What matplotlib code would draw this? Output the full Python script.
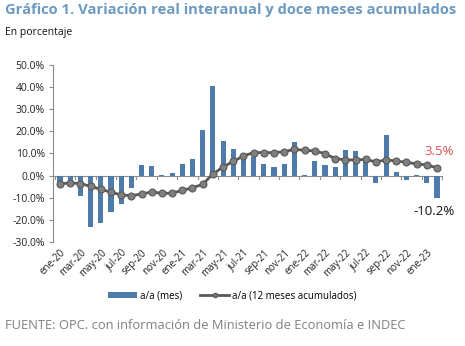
import matplotlib
matplotlib.use("Agg")
import matplotlib.pyplot as plt
from matplotlib.lines import Line2D
from matplotlib.patches import Patch
import numpy as np

plt.rcParams['font.family'] = ['Open Sans', 'DejaVu Sans']

months = ["ene-20", "feb-20", "mar-20", "abr-20", "may-20", "jun-20", "jul-20", "ago-20",
          "sep-20", "oct-20", "nov-20", "dic-20",
          "ene-21", "feb-21", "mar-21", "abr-21", "may-21", "jun-21", "jul-21", "ago-21",
          "sep-21", "oct-21", "nov-21", "dic-21",
          "ene-22", "feb-22", "mar-22", "abr-22", "may-22", "jun-22", "jul-22", "ago-22",
          "sep-22", "oct-22", "nov-22", "dic-22",
          "ene-23", "feb-23"]

aa_mes = [-2.8, -2.2, -9.0, -23.4, -21.6, -16.3, -13.0, -5.4,
          4.9, 4.5, 0.5, 1.4,
          5.4, 7.7, 20.4, 40.3, 15.8, 12.2, 8.6, 8.2,
          5.4, 4.1, 5.4, 15.0,
          0.4, 6.8, 4.6, 3.7, 11.8, 10.9, 7.0, -3.5,
          18.5, 1.8, -2.1, 0.5,
          -3.2, -10.2]

aa_12m = [-3.7, -3.3, -3.6, -4.8, -6.2, -7.5, -8.7, -9.1,
          -8.3, -7.4, -8.0, -7.9,
          -6.7, -5.5, -3.9, 0.7, 3.9, 6.4, 8.9, 10.4,
          10.4, 10.4, 10.8, 11.9,
          11.4, 11.2, 9.9, 7.7, 7.1, 7.1, 7.3, 6.2,
          7.1, 6.6, 6.0, 5.3,
          4.8, 3.5]

yticks = [-30, -20, -10, 0, 10, 20, 30, 40, 50]

title = "Gráfico 1. Variación real interanual y doce meses acumulados"
subtitle = "En porcentaje"
source = "FUENTE: OPC. con información de Ministerio de Economía e INDEC"

bar_color = "#4f7bab"
line_color = "#595959"
marker_face = "#7f7f7f"

fig = plt.figure(figsize=(4.65, 3.46), dpi=100)
ax = fig.add_axes([0.114, 0.3006, 0.839, 0.5116])

x = np.arange(len(months))
ax.bar(x, aa_mes, width=0.5, color=bar_color, zorder=2)
ax.plot(x, aa_12m, color=line_color, lw=2.0, marker='o', markersize=5,
        markerfacecolor=marker_face, markeredgecolor=line_color, markeredgewidth=0.8, zorder=3)

ax.set_ylim(-30, 50)
ax.set_xlim(-0.69, len(months) - 1 + 0.6)
ax.set_yticks(yticks)
ax.set_yticklabels([f"{v:.1f}%" for v in yticks], fontsize=7.5, color="#222222")
ax.tick_params(axis='y', length=3, color="#8c8c8c", width=0.8, pad=3)

ax.set_xticks(x[::2])
ax.set_xticklabels(months[::2], rotation=45, ha='right', rotation_mode='anchor',
                   fontsize=7, color="#222222")
ax.tick_params(axis='x', length=0, pad=4)

for s in ['top', 'right', 'bottom']:
    ax.spines[s].set_visible(False)
ax.spines['left'].set_color("#8c8c8c")
ax.spines['left'].set_linewidth(0.8)

# zero line with small ticks between every two months
ax.axhline(0, color="#8c8c8c", lw=0.8, zorder=1)
for xt in np.arange(-0.5, len(months), 2):
    ax.plot([xt, xt], [0, -1.6], color="#8c8c8c", lw=0.8, zorder=1)

ax.text(x[-1] + 0.2, aa_12m[-1] + 4.5, f"{aa_12m[-1]:.1f}%", color="#d9534f",
        fontsize=9.5, ha='center', va='bottom')
ax.text(x[-1] - 0.3, aa_mes[-1] - 3.0, f"{aa_mes[-1]:.1f}%", color="#111111",
        fontsize=9.5, ha='center', va='top')

fig.text(0.011, 0.972, title, fontsize=10.6, fontweight='bold', color="#6d9ac0",
         ha='left', va='center')
fig.text(0.011, 0.905, subtitle, fontsize=7.5, color="#111111", ha='left', va='center')

handles = [Patch(facecolor=bar_color, edgecolor='none'),
           Line2D([0], [0], color=line_color, lw=2.0, marker='o', markersize=3,
                  markerfacecolor=marker_face, markeredgecolor=line_color)]
fig.legend(handles, ["a/a (mes)", "a/a (12 meses acumulados)"], loc='center',
           bbox_to_anchor=(0.5, 0.145), ncol=2, frameon=False, fontsize=7,
           handlelength=3.0, handleheight=0.5, columnspacing=1.8, handletextpad=0.3)

fig.text(0.011, 0.06, source, fontsize=9.3, color="#808080", ha='left', va='center')

fig.savefig("out.png", dpi=100)
